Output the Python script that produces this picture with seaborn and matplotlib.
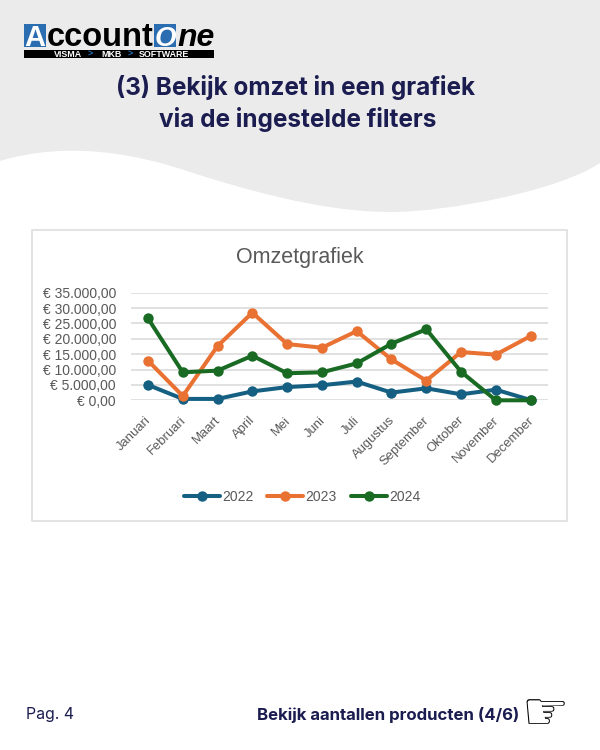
import matplotlib
matplotlib.use("Agg")
import matplotlib.pyplot as plt
from matplotlib.patches import PathPatch, Rectangle
from matplotlib.path import Path
from matplotlib.transforms import ScaledTranslation
import pandas as pd
import seaborn as sns

months = ["Januari", "Februari", "Maart", "April", "Mei", "Juni", "Juli",
          "Augustus", "September", "Oktober", "November", "December"]
omzet_2022 = [5000, 450, 450, 2900, 4300, 4900, 6100, 2500, 3900, 1950, 3450, 100]
omzet_2023 = [12900, 1400, 17650, 28500, 18300, 17100, 22500, 13300, 6400, 15700, 14850, 20900]
omzet_2024 = [26650, 9100, 9650, 14500, 8800, 9100, 12000, 18400, 23100, 9300, 0, 0]
y_ticks = [0, 5000, 10000, 15000, 20000, 25000, 30000, 35000]
y_labels = ["€ 0,00", "€ 5.000,00", "€ 10.000,00", "€ 15.000,00", "€ 20.000,00",
            "€ 25.000,00", "€ 30.000,00", "€ 35.000,00"]

NAVY = "#1b1c4f"
GREY_TEXT = "#595959"
GRID = "#d9d9d9"
LOGO_BLUE = "#2a6db0"

sns.set_theme(style="white")
plt.rcParams["font.family"] = ["Liberation Sans", "DejaVu Sans"]

fig = plt.figure(figsize=(6, 7.5), dpi=100)

# page layer in pixel coordinates
bg = fig.add_axes([0, 0, 1, 1])
bg.set_xlim(0, 600)
bg.set_ylim(750, 0)
bg.axis("off")

wave = Path(
    [(0, 0), (600, 0), (600, 163),
     (560, 190), (450, 212), (390, 212),
     (320, 212), (240, 188), (190, 172),
     (140, 155), (70, 140), (0, 161),
     (0, 0)],
    [Path.MOVETO, Path.LINETO, Path.LINETO,
     Path.CURVE4, Path.CURVE4, Path.CURVE4,
     Path.CURVE4, Path.CURVE4, Path.CURVE4,
     Path.CURVE4, Path.CURVE4, Path.CURVE4,
     Path.CLOSEPOLY])
bg.add_patch(PathPatch(wave, facecolor="#ebebec", edgecolor="none"))

# logo
bg.add_patch(Rectangle((24, 24), 22, 22.5, facecolor=LOGO_BLUE, edgecolor="none"))
bg.add_patch(Rectangle((154, 24), 22, 22.5, facecolor=LOGO_BLUE, edgecolor="none"))
bg.add_patch(Rectangle((24, 50), 190, 8, facecolor="black", edgecolor="none"))
bg.text(35, 46.5, "A", color="white", fontsize=21, fontweight="bold", ha="center", va="baseline")
bg.text(46.5, 46, "ccount", color="black", fontsize=23.5, fontweight="bold", ha="left", va="baseline")
bg.text(165, 46, "O", color="white", fontsize=20, fontweight="bold", style="italic",
        ha="center", va="baseline")
bg.text(177, 46, "ne", color="black", fontsize=23, fontweight="bold", style="italic",
        ha="left", va="baseline")
for label, x_pos, colour in [("VISMA", 67.5, "white"), (">", 90, LOGO_BLUE), ("MKB", 111, "white"),
                             (">", 130, LOGO_BLUE), ("SOFTWARE", 163.5, "white")]:
    bg.text(x_pos, 54.2, label, color=colour, fontsize=6.4, fontweight="bold", ha="center", va="center")

# heading
bg.text(295, 88, "(3) Bekijk omzet in een grafiek", color=NAVY, fontsize=17.5,
        fontweight="bold", family="Inter", ha="center", va="center")
bg.text(298, 119, "via de ingestelde filters", color=NAVY, fontsize=17.5,
        fontweight="bold", family="Inter", ha="center", va="center")

# chart frame and title
bg.add_patch(Rectangle((32, 230), 535, 291, facecolor="white", edgecolor="#dedede", linewidth=1.2))
bg.text(300, 257, "Omzetgrafiek", color=GREY_TEXT, fontsize=15.5, ha="center", va="center")

# footer
bg.text(26, 715, "Pag. 4", color=NAVY, fontsize=11.4, family="Inter", ha="left", va="center")
bg.text(519, 715, "Bekijk aantallen producten (4/6)", color=NAVY, fontsize=12.1,
        fontweight="bold", family="Inter", ha="right", va="center")
bg.text(545, 714, "☞", color="black", fontsize=38, family="DejaVu Sans", ha="center", va="center")

# chart
df = pd.DataFrame({
    "maand": months * 3,
    "omzet": omzet_2022 + omzet_2023 + omzet_2024,
    "jaar": ["2022"] * 12 + ["2023"] * 12 + ["2024"] * 12,
})

ax = fig.add_axes([130.6 / 600, 1 - 400.3 / 750, (548 - 130.6) / 600, 107.6 / 750])
ax.patch.set_alpha(0)
sns.lineplot(data=df, x="maand", y="omzet", hue="jaar", sort=False, ax=ax,
             palette=["#156082", "#E97132", "#196B24"],
             marker="o", markersize=7.5, markeredgewidth=0, linewidth=2.9,
             errorbar=None, clip_on=False, zorder=3)

ax.set_xlim(-0.5, 11.5)
ax.set_ylim(0, 35000)
ax.set_yticks(y_ticks)
ax.set_yticklabels(y_labels, fontsize=10, color=GREY_TEXT)
ax.set_xticks(range(len(months)))
ax.set_xticklabels(months, fontsize=9.4, color=GREY_TEXT, rotation=45, ha="right",
                   rotation_mode="anchor")
ax.tick_params(axis="both", length=0)
ax.tick_params(axis="y", pad=10.5)
ax.tick_params(axis="x", pad=10)
# month labels sit a little left of their tick
shift = ScaledTranslation(-3 / 100, 0, fig.dpi_scale_trans)
for tick_label in ax.get_xticklabels():
    tick_label.set_transform(tick_label.get_transform() + shift)
ax.set_xlabel("")
ax.set_ylabel("")
ax.grid(axis="y", color=GRID, linewidth=1.1)
ax.set_axisbelow(True)
sns.despine(ax=ax, left=True, bottom=True)

sns.move_legend(ax, "center", bbox_to_anchor=(302 / 600, 1 - 497 / 750),
                bbox_transform=fig.transFigure, ncol=3, title=None, frameon=False,
                fontsize=10, handlelength=2.6, handletextpad=0.15, columnspacing=1.0,
                labelcolor=GREY_TEXT)

fig.savefig("out.png", dpi=100)
